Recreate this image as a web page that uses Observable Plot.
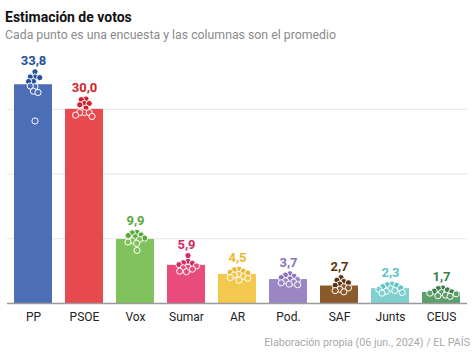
<!DOCTYPE html>
<html>
<head>
<meta charset="utf-8">
<script src="https://cdn.jsdelivr.net/npm/d3@7"></script>
<script src="https://cdn.jsdelivr.net/npm/@observablehq/plot@0.6"></script>
<style>
  body { margin: 0; background: #fff; font-family: Roboto, "Noto Sans", sans-serif; }
  #wrap { width: 474px; }
  .title { font-size: 14px; font-weight: 700; color: #111; line-height: 18px; padding: 8px 0 0 5px; height: 18px; }
  .subtitle { font-size: 12.3px; color: #8a8a8a; line-height: 18px; padding-left: 5px; height: 18px; }
  .caption { font-size: 10.7px; color: #a8a8a8; line-height: 18px; text-align: right; padding-right: 4px; height: 18px; }
</style>
</head>
<body>
<div id="wrap">
  <div class="title">Estimación de votos</div>
  <div class="subtitle">Cada punto es una encuesta y las columnas son el promedio</div>
  <div id="chart"></div>
  <div class="caption">Elaboración propia (06 jun., 2024) / EL PAÍS</div>
</div>
<script>
const parties = ["PP", "PSOE", "Vox", "Sumar", "AR", "Pod.", "SAF", "Junts", "CEUS"];
const means = [33.8, 30.0, 9.9, 5.9, 4.5, 3.7, 2.7, 2.3, 1.7];
const barColors = ["#4b6eb6", "#e8494e", "#80c25b", "#e94b7c", "#f3c84e", "#9a86c2", "#8b5a2b", "#80d0cf", "#5c9f6b"];
const darkColors = ["#24509c", "#d41f2d", "#5aa83b", "#d42b60", "#ecb62e", "#8a73b8", "#5e3410", "#5cc4c3", "#3c7e4d"];
const pollValues = [
  [35.8, 35.0, 35.0, 34.9, 34.3, 34.3, 33.5, 33.6, 32.8, 32.6, 28.2],
  [31.6, 31.5, 30.9, 30.9, 30.7, 30.2, 29.5, 29.5, 29.5, 28.9, 29.1],
  [11.0, 10.9, 10.6, 10.5, 10.3, 10.1, 9.9, 9.7, 9.5, 9.3, 8.2],
  [7.4, 6.5, 6.3, 6.2, 6.0, 5.8, 5.6, 5.5, 5.3, 5.0, 4.9],
  [5.3, 5.2, 5.0, 4.8, 4.7, 4.5, 4.4, 4.2, 4.0, 3.9, 3.6],
  [4.6, 4.4, 4.2, 4.0, 3.8, 3.7, 3.5, 3.3, 3.2, 3.0, 2.9],
  [4.0, 3.6, 3.4, 3.2, 3.0, 2.8, 2.6, 2.4, 2.2, 2.0, 1.8],
  [3.0, 2.9, 2.8, 2.6, 2.4, 2.3, 2.2, 2.0, 1.9, 1.7, 1.6],
  [2.4, 2.3, 2.1, 1.9, 1.8, 1.7, 1.6, 1.5, 1.3, 1.2, 1.1]
];
const gridTicks = [10, 20, 30];

const table = parties.map((p, i) => ({
  party: p, mean: means[i], max: d3.max(pollValues[i]),
  bar: barColors[i], dark: darkColors[i]
}));
const polls = parties.flatMap((p, i) => pollValues[i].map(v => ({
  party: p, value: v, fill: v > means[i] ? darkColors[i] : barColors[i]
})));

const chart = Plot.plot({
  width: 474,
  height: 290,
  marginLeft: 4,
  marginRight: 4,
  marginTop: 26,
  marginBottom: 31,
  style: { fontFamily: "Roboto, 'Noto Sans', sans-serif", fontSize: "12px", color: "#222", background: "#fff" },
  fx: { domain: parties, paddingInner: 0.25, paddingOuter: 0.125, label: null, tickSize: 0, tickPadding: 9 },
  y: { domain: [0, 36], axis: null },
  marks: [
    Plot.ruleY(gridTicks, { stroke: "#e6e6e6", strokeWidth: 1, insetLeft: -7, insetRight: -7 }),
    Plot.barY(table, { fx: "party", y: "mean", fill: "bar" }),
    Plot.dot(polls, Plot.dodgeX({ anchor: "middle", padding: 0, r: 2.4 }, { fx: "party", y: "value", r: 3.1, dx: 1.5, fill: "fill", stroke: "white", strokeWidth: 1 })),
    Plot.ruleY([0], { stroke: "#9a9a9a", strokeWidth: 1.5, insetLeft: -7, insetRight: -7 }),
    Plot.text(table, { fx: "party", y: "max", text: d => d.mean.toFixed(1).replace(".", ","), fill: "dark", dy: -11, fontSize: 13, fontWeight: "bold" })
  ]
});
document.getElementById("chart").appendChild(chart);
</script>
</body>
</html>
